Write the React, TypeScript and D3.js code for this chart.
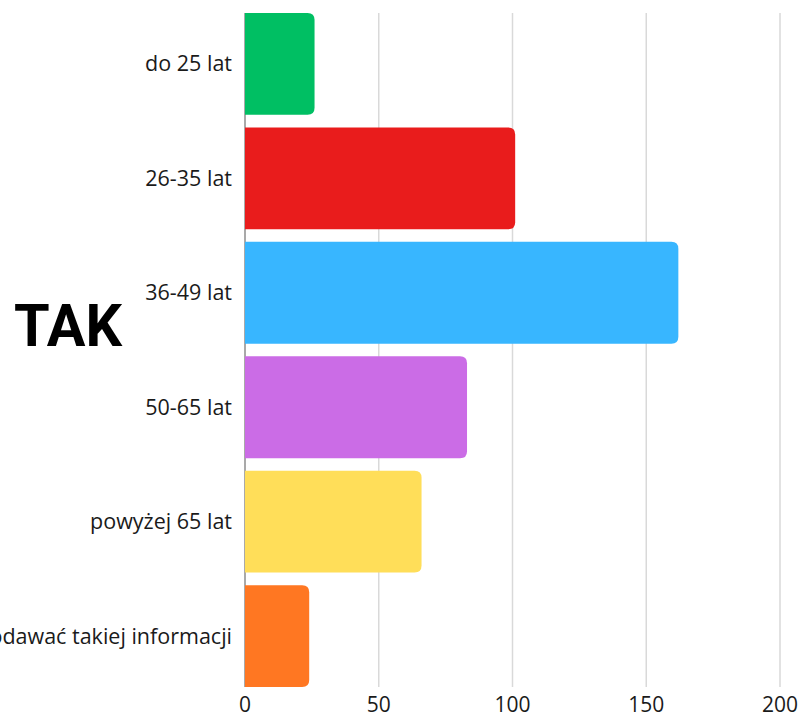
import React from 'react';
import * as d3 from 'd3';

const categories = [
  'do 25 lat',
  '26-35 lat',
  '36-49 lat',
  '50-65 lat',
  'powyżej 65 lat',
  'Wolę nie podawać takiej informacji'
];
const values = [26, 101, 162, 83, 66, 24];
const colors = ['#00bf63', '#e91c1c', '#38b6ff', '#cb6ce6', '#ffde59', '#ff7722'];
const xTicks = [0, 50, 100, 150, 200];

const WIDTH = 805;
const HEIGHT = 716;
const margin = { top: 13, right: 25, bottom: 29, left: 245 };

// bar with square left side and rounded right corners
const barPath = (x0: number, x1: number, y0: number, h: number, r: number) => {
  const rr = Math.min(r, (x1 - x0) / 2, h / 2);
  return `M${x0},${y0}H${x1 - rr}Q${x1},${y0} ${x1},${y0 + rr}V${y0 + h - rr}Q${x1},${y0 + h} ${x1 - rr},${y0 + h}H${x0}Z`;
};

export default function App() {
  const xScale = d3
    .scaleLinear()
    .domain([0, 200])
    .range([margin.left, WIDTH - margin.right]);

  const yScale = d3
    .scaleBand()
    .domain(categories)
    .range([margin.top, HEIGHT - margin.bottom])
    .paddingInner(0.11)
    .paddingOuter(0);

  const bottom = HEIGHT - margin.bottom;

  return (
    <div style={{ position: 'absolute', left: 0, top: 0 }}>
      <svg width={WIDTH} height={HEIGHT} style={{ display: 'block' }}>
        <rect width={WIDTH} height={HEIGHT} fill="#ffffff" />

        {/* grid */}
        {xTicks.slice(1).map(t => (
          <line
            key={t}
            x1={xScale(t)}
            x2={xScale(t)}
            y1={margin.top}
            y2={bottom}
            stroke="#d9d9d9"
            strokeWidth={1.5}
          />
        ))}
        <line
          x1={xScale(0)}
          x2={xScale(0)}
          y1={margin.top}
          y2={bottom}
          stroke="#8c8c8c"
          strokeWidth={1.5}
        />

        {/* bars */}
        {categories.map((c, i) => (
          <path
            key={c}
            d={barPath(xScale(0), xScale(values[i]), yScale(c) || 0, yScale.bandwidth(), 7)}
            fill={colors[i]}
          />
        ))}

        {/* category labels */}
        {categories.map(c => (
          <text
            key={c}
            x={232}
            y={(yScale(c) || 0) + yScale.bandwidth() / 2}
            dy="0.35em"
            textAnchor="end"
            fontFamily="'Open Sans', sans-serif"
            fontSize={21.5}
            fill="#1a1a1a"
          >
            {c}
          </text>
        ))}

        {/* x tick labels */}
        {xTicks.map(t => (
          <text
            key={t}
            x={xScale(t)}
            y={bottom + 25}
            textAnchor="middle"
            fontFamily="'Open Sans', sans-serif"
            fontSize={21}
            fill="#1a1a1a"
          >
            {t}
          </text>
        ))}

        <text
          x={14}
          y={346}
          fontFamily="Roboto, sans-serif"
          fontWeight={700}
          fontSize={60}
          textLength={108}
          lengthAdjust="spacingAndGlyphs"
          fill="#000000"
        >
          TAK
        </text>
      </svg>
    </div>
  );
}
